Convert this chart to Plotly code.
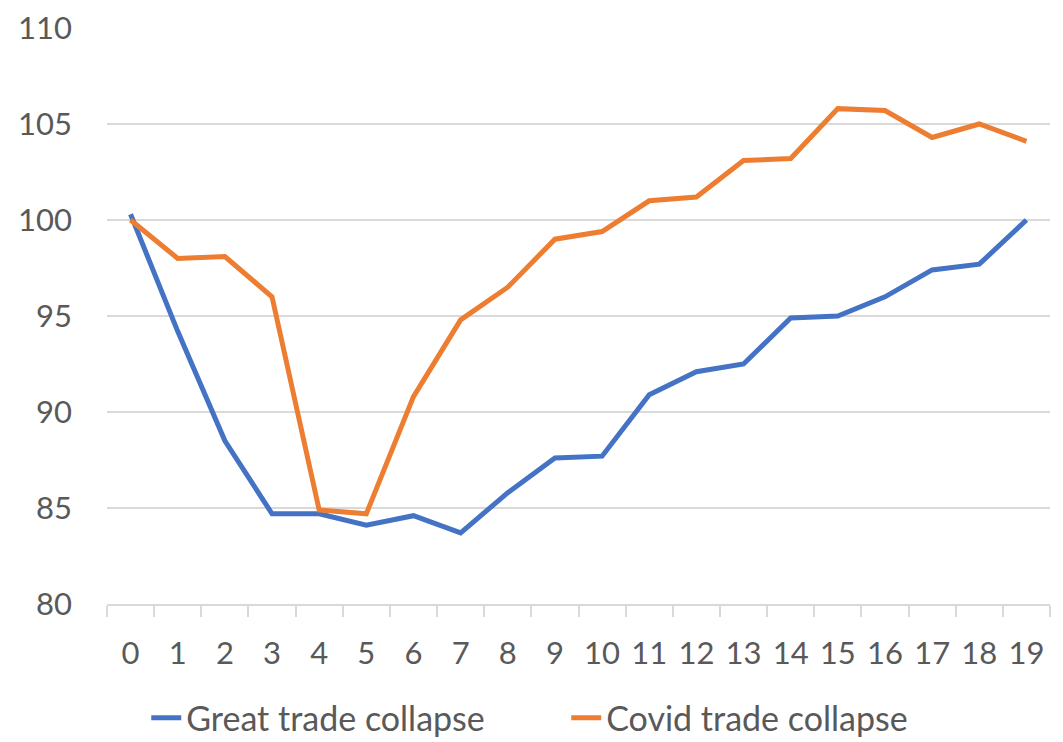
import plotly.graph_objects as go

periods = [str(i) for i in range(20)]
great_trade = [100.3, 94.2, 88.5, 84.7, 84.7, 84.1, 84.6, 83.7, 85.8, 87.6,
               87.7, 90.9, 92.1, 92.5, 94.9, 95.0, 96.0, 97.4, 97.7, 100.0]
covid_trade = [100.0, 98.0, 98.1, 96.0, 84.9, 84.7, 90.8, 94.8, 96.5, 99.0,
               99.4, 101.0, 101.2, 103.1, 103.2, 105.8, 105.7, 104.3, 105.0, 104.1]

FONT = "Lato, Open Sans, sans-serif"
GREY = "#595959"
SIZE = 31

fig = go.Figure()
fig.add_trace(go.Scatter(x=periods, y=great_trade, mode="lines", name="Great trade collapse",
                         line=dict(color="#4472C4", width=5)))
fig.add_trace(go.Scatter(x=periods, y=covid_trade, mode="lines", name="Covid trade collapse",
                         line=dict(color="#ED7D31", width=5)))

fig.update_layout(
    width=1063, height=742,
    plot_bgcolor="white", paper_bgcolor="white",
    margin=dict(l=99, r=21, t=20, b=146, autoexpand=False),
    font=dict(family=FONT, size=SIZE, color=GREY),
    xaxis=dict(
        type="category", range=[-0.5, 19.5], tickson="boundaries", ticks="outside", ticklen=11,
        tickcolor="#d9d9d9", tickwidth=1.5, showline=True, linecolor="#d9d9d9", linewidth=1.5,
        showgrid=False, ticklabelstandoff=21, tickfont=dict(size=SIZE, color=GREY),
    ),
    yaxis=dict(
        range=[80, 110], dtick=5, showgrid=True, gridcolor="#d9d9d9", gridwidth=1.5,
        zeroline=False, ticks="", ticklabelstandoff=34, ticklabeloverflow="allow",
        tickfont=dict(size=SIZE, color=GREY),
    ),
    legend=dict(orientation="h", x=0.487, xanchor="center", y=-0.198, yanchor="middle",
                font=dict(size=34, color=GREY), entrywidth=375),
    showlegend=True,
)

fig.write_html("out.html")
